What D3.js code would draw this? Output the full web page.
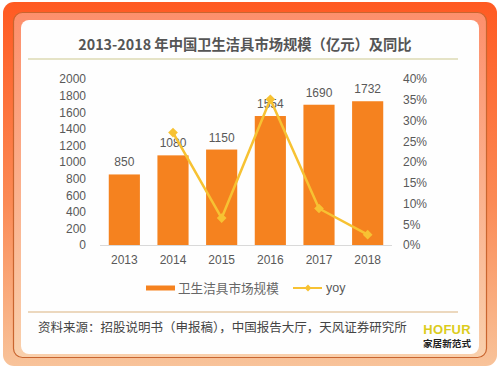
<!doctype html>
<html lang="zh">
<head>
  <meta charset="utf-8">
  <title>卫生洁具市场规模</title>
  <style>
    body { margin: 0; background: #fff; }
    svg { display: block; }
    .num { font-family: "Liberation Sans", Arial, sans-serif; fill: #595959; }
    .cjk { font-family: "Noto Sans CJK SC", sans-serif; }
  </style>
</head>
<body>
  <div id="chart"></div>
  <script src="https://d3js.org/d3.v7.min.js"></script>
  <script>
// chart data
var years = ["2013", "2014", "2015", "2016", "2017", "2018"];
var marketSize = [850, 1080, 1150, 1554, 1690, 1732];
var yoyYears = ["2014", "2015", "2016", "2017", "2018"];
var yoyPct = [27.1, 6.5, 35.1, 8.8, 2.5];
var leftTicks = [0, 200, 400, 600, 800, 1000, 1200, 1400, 1600, 1800, 2000];
var rightTicks = [0, 5, 10, 15, 20, 25, 30, 35, 40];

(function() {
  var width = 500, height = 372;
  var barColor = "#f5821f", lineColor = "#f7c233";

  var svg = d3.select("#chart").append("svg")
      .attr("width", width)
      .attr("height", height);

  var defs = svg.append("defs");
  var g1 = defs.append("linearGradient").attr("id", "outer")
      .attr("x1", 0).attr("y1", 0).attr("x2", 0).attr("y2", 1);
  g1.append("stop").attr("offset", "0%").attr("stop-color", "#ff5a22");
  g1.append("stop").attr("offset", "55%").attr("stop-color", "#fb8a55");
  g1.append("stop").attr("offset", "100%").attr("stop-color", "#f8c39a");
  var g2 = defs.append("linearGradient").attr("id", "band")
      .attr("x1", 0).attr("y1", 0).attr("x2", 0).attr("y2", 1);
  g2.append("stop").attr("offset", "0%").attr("stop-color", "#fd8f6c");
  g2.append("stop").attr("offset", "100%").attr("stop-color", "#f9d0ac");

  // frame
  svg.append("rect").attr("x", 3).attr("y", 2).attr("width", 494).attr("height", 364)
    .attr("rx", 11).attr("fill", "url(#outer)");
  svg.append("rect").attr("x", 13.5).attr("y", 12.5).attr("width", 473).attr("height", 345)
    .attr("rx", 9).attr("fill", "url(#band)").attr("stroke", "#c9652f").attr("stroke-width", 1.2);
  svg.append("rect").attr("x", 21).attr("y", 20).attr("width", 458).attr("height", 334)
    .attr("rx", 8).attr("fill", "#fefefe");

  // title
  svg.append("text").attr("class", "cjk")
    .attr("x", 245).attr("y", 50)
    .attr("text-anchor", "middle")
    .attr("font-size", 14.3).attr("font-weight", "bold").attr("fill", "#555")
    .text("2013-2018 年中国卫生洁具市场规模（亿元）及同比");
  svg.append("line").attr("x1", 28).attr("x2", 458).attr("y1", 59).attr("y2", 59)
    .attr("stroke", "#cbc88e").attr("stroke-width", 1.2);

  // scales
  var x = d3.scaleBand().domain(years).range([100, 392]).paddingInner(0.36).paddingOuter(0.18);
  var yL = d3.scaleLinear().domain([0, 2000]).range([245, 79]);
  var yR = d3.scaleLinear().domain([0, 40]).range([245, 79]);

  // left axis
  var left = svg.append("g").attr("transform", "translate(86,0)")
    .call(d3.axisLeft(yL).tickValues(leftTicks).tickSize(0).tickPadding(0)
      .tickFormat(d3.format("d")));
  left.select(".domain").remove();
  left.selectAll("text").attr("class", "num").attr("font-size", 12).attr("fill", "#666");

  // right axis
  var right = svg.append("g").attr("transform", "translate(403,0)")
    .call(d3.axisRight(yR).tickValues(rightTicks).tickSize(0).tickPadding(0)
      .tickFormat(function(d) { return d + "%"; }));
  right.select(".domain").remove();
  right.selectAll("text").attr("class", "num").attr("font-size", 12).attr("fill", "#666");

  // bars
  svg.append("g").selectAll("rect").data(years).enter().append("rect")
    .attr("x", function(d) { return x(d); })
    .attr("width", x.bandwidth())
    .attr("y", function(d, i) { return yL(marketSize[i]); })
    .attr("height", function(d, i) { return yL(0) - yL(marketSize[i]); })
    .attr("fill", barColor);

  // baseline
  svg.append("line").attr("x1", 100).attr("x2", 392).attr("y1", 245.5).attr("y2", 245.5)
    .attr("stroke", "#d9d9d9");

  // bar labels
  svg.append("g").selectAll("text").data(years).enter().append("text")
    .attr("class", "num")
    .attr("x", function(d) { return x(d) + x.bandwidth() / 2; })
    .attr("y", function(d, i) { return yL(marketSize[i]) - 8; })
    .attr("text-anchor", "middle").attr("font-size", 12).attr("fill", "#595959")
    .text(function(d, i) { return marketSize[i]; });

  // x axis labels
  var bottom = svg.append("g").attr("transform", "translate(0,245)")
    .call(d3.axisBottom(x).tickSize(0).tickPadding(10));
  bottom.select(".domain").remove();
  bottom.selectAll("text").attr("class", "num").attr("font-size", 12).attr("fill", "#666");

  // yoy line
  var pts = yoyYears.map(function(d, i) {
    return [x(d) + x.bandwidth() / 2, yR(yoyPct[i])];
  });
  svg.append("path").attr("d", d3.line()(pts))
    .attr("fill", "none").attr("stroke", lineColor).attr("stroke-width", 2.5)
    .attr("stroke-linejoin", "round");
  var diamond = d3.symbol().type(d3.symbolDiamond2).size(60);
  svg.append("g").selectAll("path").data(pts).enter().append("path")
    .attr("d", diamond)
    .attr("transform", function(d) { return "translate(" + d[0] + "," + d[1] + ")"; })
    .attr("fill", lineColor);

  // legend
  var lg = svg.append("g").attr("transform", "translate(0,288)");
  lg.append("rect").attr("x", 146).attr("y", -2.5).attr("width", 29).attr("height", 5).attr("fill", barColor);
  lg.append("text").attr("class", "cjk").attr("x", 178).attr("y", 4.5)
    .attr("font-size", 12.6).attr("fill", "#666").text("卫生洁具市场规模");
  lg.append("line").attr("x1", 293).attr("x2", 322).attr("y1", 0).attr("y2", 0)
    .attr("stroke", lineColor).attr("stroke-width", 2);
  lg.append("path").attr("d", d3.symbol().type(d3.symbolDiamond2).size(30))
    .attr("transform", "translate(308,0)").attr("fill", lineColor);
  lg.append("text").attr("class", "num").attr("x", 326).attr("y", 4)
    .attr("font-size", 12.5).attr("fill", "#666").text("yoy");

  // footer
  svg.append("line").attr("x1", 28).attr("x2", 458).attr("y1", 312).attr("y2", 312)
    .attr("stroke", "#d9b27e").attr("stroke-width", 1.2);
  svg.append("text").attr("class", "cjk").attr("x", 38).attr("y", 332)
    .attr("font-size", 12.5).attr("fill", "#444")
    .text("资料来源：招股说明书（申报稿），中国报告大厅，天风证券研究所");
  svg.append("text").attr("x", 471).attr("y", 334)
    .attr("text-anchor", "end")
    .attr("font-family", "'Liberation Sans', Arial, sans-serif")
    .attr("font-size", 13).attr("font-weight", "bold").attr("fill", "#dccc1c")
    .attr("letter-spacing", 0.3)
    .text("HOFUR");
  svg.append("text").attr("class", "cjk").attr("x", 471).attr("y", 347)
    .attr("text-anchor", "end")
    .attr("font-size", 9.6).attr("font-weight", "bold").attr("fill", "#222")
    .text("家居新范式");
})();
  </script>
</body>
</html>
